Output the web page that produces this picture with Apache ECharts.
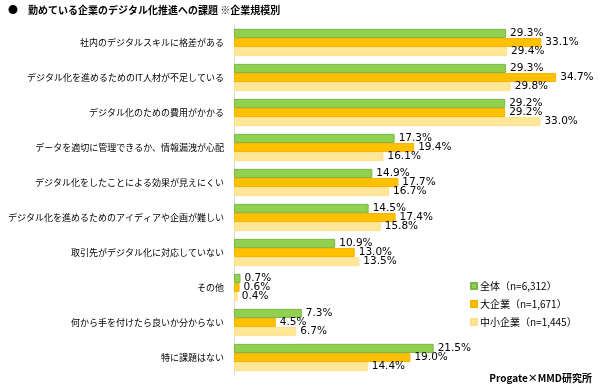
<!DOCTYPE html>
<html><head><meta charset="utf-8">
<script src="https://cdn.jsdelivr.net/npm/echarts@6/dist/echarts.min.js"></script>
<style>html,body{margin:0;padding:0;background:#fff}#c{width:600px;height:392px}</style>
</head><body><div id="c"></div>
<script>
var categories = ['社内のデジタルスキルに格差がある','デジタル化を進めるためのIT人材が不足している','デジタル化のための費用がかかる','データを適切に管理できるか、情報漏洩が心配','デジタル化をしたことによる効果が見えにくい','デジタル化を進めるためのアイディアや企画が難しい','取引先がデジタル化に対応していない','その他','何から手を付けたら良いか分からない','特に課題はない'];
var seriesNames = ['全体（n=6,312）','大企業（n=1,671）','中小企業（n=1,445）'];
var allValues = [29.3,29.3,29.2,17.3,14.9,14.5,10.9,0.7,7.3,21.5];
var largeValues = [33.1,34.7,29.2,19.4,17.7,17.4,13.0,0.6,4.5,19.0];
var smeValues = [29.4,29.8,33.0,16.1,16.7,15.8,13.5,0.4,6.7,14.4];
var titleText = '●　勤めている企業のデジタル化推進への課題 ※企業規模別';
var sourceText = 'Progate×MMD研究所';

var colors = ['#92D050','#FFC000','#FFE699'];
var borders = ['#7AB648','#F5B400','#FFE08A'];
var lblFont = 'DejaVu Sans';
function mk(i, data){
  return {name: seriesNames[i], type:'bar', data:data, barGap:'0%', barCategoryGap:'22%',
    itemStyle:{color:colors[i], borderColor:borders[i], borderWidth:1},
    label:{show:true, position:'right', distance:4, formatter:function(p){return p.value.toFixed(1)+'%';},
      color:'#000', fontFamily:lblFont, fontSize:10.5}};
}
var chart = echarts.init(document.getElementById('c'), null, {renderer:'canvas'});
chart.setOption({
  animation:false,
  grid:{left:234, top:25, width:325, height:350, containLabel:false, outerBoundsMode:'none'},
  xAxis:{type:'value', min:0, max:35, show:false},
  yAxis:{type:'category', data:categories, inverse:true,
    axisLine:{lineStyle:{color:'#D9D9D9'}}, axisTick:{show:false},
    axisLabel:{color:'#000', fontSize:9, fontFamily:'Noto Sans CJK JP', margin:10}},
  legend:{orient:'vertical', left:465, top:276, itemWidth:6, itemHeight:6, itemGap:8,
    icon:'rect', textStyle:{fontSize:10, fontFamily:'Noto Sans CJK JP', color:'#000', padding:[0,0,0,-2]},
    data:seriesNames},
  graphic:[
    {type:'text', left:8, top:5, style:{text:titleText, font:'bold 10px "Noto Sans CJK JP"', fill:'#000'}},
    {type:'text', right:8, top:373, style:{text:sourceText, font:'bold 10px "Noto Sans CJK JP"', fill:'#000'}}
  ],
  series:[mk(0,allValues), mk(1,largeValues), mk(2,smeValues)]
});
</script></body></html>
